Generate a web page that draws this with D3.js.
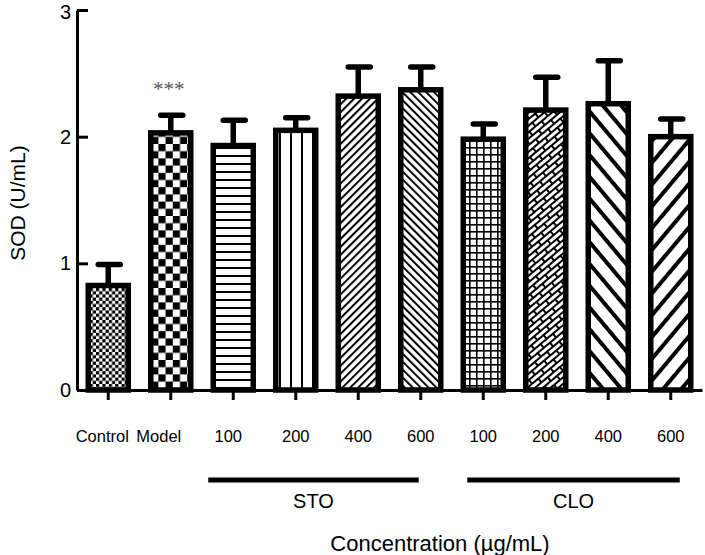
<!DOCTYPE html>
<html>
<head>
<meta charset="utf-8">
<script src="https://cdn.jsdelivr.net/npm/d3@7"></script>
<style>
  html, body { margin: 0; padding: 0; background: #fff; }
  svg { display: block; font-family: "Liberation Sans", Arial, sans-serif; }
</style>
</head>
<body>
<svg id="chart" width="705" height="555"></svg>
<script>
// ---- data ----
const categories = ["Control", "Model", "STO-100", "STO-200", "STO-400", "STO-600", "CLO-100", "CLO-200", "CLO-400", "CLO-600"];
const tickLabels = ["Control", "Model", "100", "200", "400", "600", "100", "200", "400", "600"];
const meanValues = [0.825, 2.03, 1.93, 2.05, 2.32, 2.37, 1.98, 2.21, 2.26, 2.00];
const errorValues = [0.165, 0.14, 0.20, 0.10, 0.23, 0.18, 0.12, 0.26, 0.34, 0.14];
const patternIds = ["pCheckFine", "pCheckCoarse", "pHoriz", "pVert", "pDiagUp", "pDiagDown", "pGrid", "pBrick", "pWideDown", "pWideUp"];
const yTicks = [0, 1, 2, 3];
const groups = [
  { name: "STO", first: "STO-100", last: "STO-600" },
  { name: "CLO", first: "CLO-100", last: "CLO-600" }
];
const yTitle = "SOD (U/mL)";
const xTitle = "Concentration (\u00b5g/mL)";
const sigLabel = { category: "Model", text: "***" };

// ---- setup ----
const svg = d3.select("#chart");
const x = d3.scaleBand().domain(categories).range([77, 702]).paddingInner(0.36).paddingOuter(0.18);
const y = d3.scaleLinear().domain([0, 3]).range([390, 10]);
const cx = d => x(d) + x.bandwidth() / 2;

// ---- patterns ----
const defs = svg.append("defs");
function pat(id, w, h, transform) {
  const p = defs.append("pattern").attr("id", id).attr("patternUnits", "userSpaceOnUse")
    .attr("width", w).attr("height", h);
  if (transform) p.attr("patternTransform", transform);
  p.append("rect").attr("width", w).attr("height", h).attr("fill", "#fff");
  return p;
}
// fine checker
let p = pat("pCheckFine", 6.4, 6.4);
p.append("rect").attr("width", 3.2).attr("height", 3.2).attr("fill", "#000");
p.append("rect").attr("x", 3.2).attr("y", 3.2).attr("width", 3.2).attr("height", 3.2).attr("fill", "#000");
// coarse checker
p = pat("pCheckCoarse", 14.4, 14.4);
p.append("rect").attr("width", 7.2).attr("height", 7.2).attr("fill", "#000");
p.append("rect").attr("x", 7.2).attr("y", 7.2).attr("width", 7.2).attr("height", 7.2).attr("fill", "#000");
// horizontal lines
p = pat("pHoriz", 10, 8);
p.append("rect").attr("y", 3).attr("width", 10).attr("height", 2).attr("fill", "#000");
// vertical lines
p = pat("pVert", 11, 10);
p.append("rect").attr("x", 4).attr("width", 2).attr("height", 10).attr("fill", "#000");
// thin diagonal "/"
p = pat("pDiagUp", 5.6, 10, "rotate(45)");
p.append("rect").attr("x", 0).attr("width", 2).attr("height", 10).attr("fill", "#000");
// thin diagonal "\"
p = pat("pDiagDown", 5.6, 10, "rotate(-45)");
p.append("rect").attr("x", 0).attr("width", 2).attr("height", 10).attr("fill", "#000");
// grid
p = pat("pGrid", 7, 7);
p.append("rect").attr("x", 0).attr("width", 1.6).attr("height", 7).attr("fill", "#000");
p.append("rect").attr("y", 0).attr("width", 7).attr("height", 1.6).attr("fill", "#000");
// diagonal brick
p = pat("pBrick", 16, 10, "rotate(-40)");
p.append("rect").attr("y", 0).attr("width", 16).attr("height", 2).attr("fill", "#000");
p.append("rect").attr("x", 0).attr("y", 0).attr("width", 2).attr("height", 5).attr("fill", "#000");
p.append("rect").attr("y", 5).attr("width", 16).attr("height", 2).attr("fill", "#000");
p.append("rect").attr("x", 8).attr("y", 5).attr("width", 2).attr("height", 5).attr("fill", "#000");
// wide "\"
p = pat("pWideDown", 14, 10, "rotate(-40)");
p.append("rect").attr("x", 0).attr("width", 4).attr("height", 10).attr("fill", "#000");
// wide "/"
p = pat("pWideUp", 14, 10, "rotate(40)");
p.append("rect").attr("x", 0).attr("width", 4).attr("height", 10).attr("fill", "#000");

const data = categories.map((c, i) => ({ c, v: meanValues[i], e: errorValues[i], pat: patternIds[i], label: tickLabels[i] }));

// ---- error bars (drawn below bars) ----
const eg = svg.append("g");
eg.selectAll("line.stem").data(data).join("line")
  .attr("x1", d => cx(d.c)).attr("x2", d => cx(d.c))
  .attr("y1", d => y(d.v)).attr("y2", d => y(d.v + d.e))
  .attr("stroke", "#000").attr("stroke-width", 5.5);
eg.selectAll("line.cap").data(data).join("line")
  .attr("x1", d => cx(d.c) - 10).attr("x2", d => cx(d.c) + 12)
  .attr("y1", d => y(d.v + d.e)).attr("y2", d => y(d.v + d.e))
  .attr("stroke", "#000").attr("stroke-width", 5.5).attr("stroke-linecap", "round");

// ---- bars ----
svg.append("g").selectAll("rect").data(data).join("rect")
  .attr("x", d => x(d.c)).attr("width", x.bandwidth())
  .attr("y", d => y(d.v)).attr("height", d => y(0) - y(d.v))
  .attr("fill", d => `url(#${d.pat})`)
  .attr("stroke", "#000").attr("stroke-width", 5.5);

// ---- axes ----
const yAxis = svg.append("g").attr("transform", "translate(77,0)")
  .call(d3.axisLeft(y).tickValues(yTicks).tickFormat(d3.format("d")).tickSizeInner(-11).tickSizeOuter(0).tickPadding(6));
yAxis.select(".domain").attr("stroke-width", 3);
yAxis.selectAll(".tick line").attr("stroke-width", 3).attr("x1", 0);
yAxis.selectAll(".tick text").attr("font-size", 20).attr("fill", "#000")
  .attr("font-family", "Liberation Sans, Arial, sans-serif")
  .attr("dy", d => d === 3 ? "0.42em" : "0.32em");

const xAxis = svg.append("g").attr("transform", "translate(0,390)")
  .call(d3.axisBottom(x).tickFormat((d, i) => tickLabels[i]).tickSizeInner(10).tickSizeOuter(0).tickPadding(30));
xAxis.select(".domain").attr("stroke-width", 3);
xAxis.selectAll(".tick line").attr("stroke-width", 3);
xAxis.selectAll(".tick text").attr("font-size", 16.5).attr("fill", "#000")
  .attr("font-family", "Liberation Sans, Arial, sans-serif")
  .attr("dx", (d, i) => i === 0 ? -6 : i === 1 ? -12 : i === 2 ? -5 : 0);

// ---- group lines ----
const gg = svg.append("g");
groups.forEach((g, i) => {
  const x1 = i === 0 ? cx(g.first) - 25 : cx(g.first) - 16;
  const x2 = i === 0 ? cx(g.last) - 2 : cx(g.last) + 9;
  gg.append("line").attr("x1", x1).attr("x2", x2).attr("y1", 480).attr("y2", 480)
    .attr("stroke", "#000").attr("stroke-width", 5);
  gg.append("text").attr("x", (x1 + x2) / 2).attr("y", 508).attr("text-anchor", "middle")
    .attr("font-size", 20).text(g.name);
});

// ---- titles ----
svg.append("text").attr("x", 440).attr("y", 551).attr("text-anchor", "middle")
  .attr("font-size", 22).text(xTitle);
svg.append("text").attr("transform", "translate(25,203) rotate(-90)").attr("text-anchor", "middle")
  .attr("font-size", 21).text(yTitle);

// ---- significance ----
svg.append("text").attr("x", cx(sigLabel.category) - 2).attr("y", 96).attr("text-anchor", "middle")
  .attr("font-size", 21).attr("fill", "#555").attr("font-family", "Liberation Serif, Times New Roman, serif")
  .text(sigLabel.text);
</script>
</body>
</html>
